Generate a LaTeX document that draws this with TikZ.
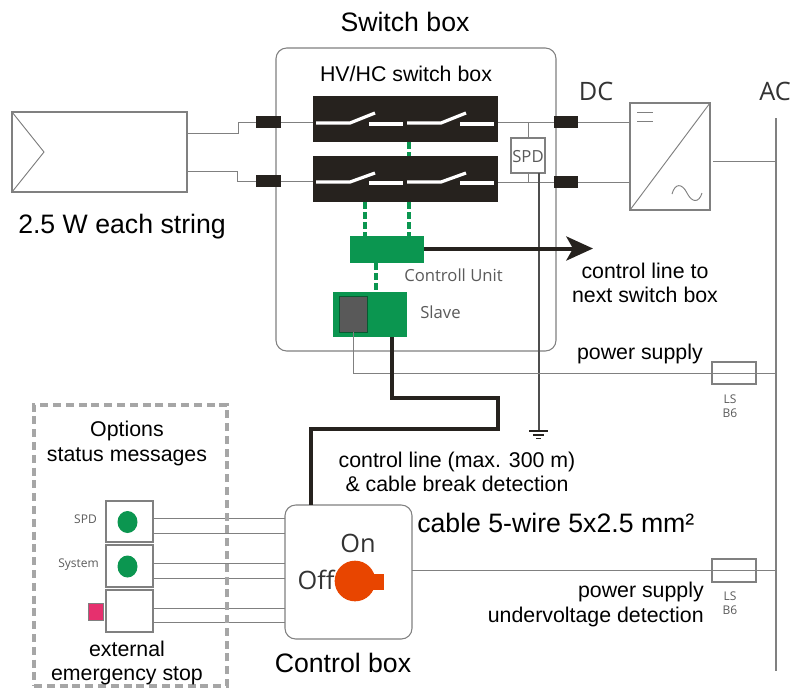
\documentclass[tikz,border=0pt]{standalone}
\usepackage{fontspec}
\setmainfont{Liberation Sans}
\newfontfamily\thinfont{Open Sans}
\usetikzlibrary{arrows.meta,shapes.geometric}
\definecolor{wire}{HTML}{808080}
\definecolor{blk}{HTML}{26221E}
\definecolor{grn}{HTML}{0B9650}
\definecolor{greyt}{HTML}{5A5A5A}
\definecolor{knobc}{HTML}{E84500}
\definecolor{pink}{HTML}{E6306E}
\newcommand{\bx}[6]{%
  \pgfmathsetmacro\bw{(#5-#3)*.75}\pgfmathsetmacro\bh{(#6-#4)*.75}%
  \node[#2,inner sep=0pt,outer sep=0pt,minimum width=\bw pt,minimum height=\bh pt] (#1) at ({(#3+#5)/2},{(#4+#6)/2}) {};}
\tikzset{
  wireline/.style={draw=wire,line width=.7pt},
  outline/.style={draw=wire,line width=.8pt,fill=white},
  roundbox/.style={outline,rounded corners=8pt},
  blackblock/.style={fill=blk},
  terminal/.style={fill=blk},
  greenbox/.style={fill=grn},
  greenlink/.style={draw=grn,line width=2.8pt,dash pattern=on 5pt off 2.6pt},
  thick line/.style={draw=blk,line width=3pt},
  contact/.style={draw=white,line width=2.4pt},
  big/.style={font=\fontsize{20}{24}\selectfont,anchor=base,inner sep=0pt,text=black},
  mid/.style={font=\fontsize{16}{19}\selectfont,anchor=base,inner sep=0pt,text=black},
  glabel/.style={font=\thinfont\fontsize{12.5}{15}\selectfont,anchor=base,inner sep=0pt,text=greyt},
  slabel/.style={font=\thinfont\fontsize{9}{11}\selectfont,anchor=base,inner sep=0pt,text=greyt},
  hlabel/.style={font=\thinfont\fontsize{19}{23}\selectfont,anchor=base,inner sep=0pt,text=black!80},
}
\begin{document}
\begin{tikzpicture}[x=.75pt,y=-.75pt]
\useasboundingbox (0,0) rectangle (792,687);
% switch box outline
\bx{sbox}{roundbox}{276}{48}{556}{351}
% PV string
\bx{pv}{outline}{12}{112}{187}{192}
\coordinate (chev) at (44,152);
\draw[wireline] (pv.north west) -- (chev) -- (pv.south west);
% inverter and AC bus
\bx{inv}{outline}{630}{103}{710}{210}
\draw[wireline] (inv.south west) -- (inv.north east);
\coordinate (eqa) at (637,112); \coordinate (eqb) at (653,112);
\coordinate (eqc) at (637,121); \coordinate (eqd) at (653,121);
\draw[wireline] (eqa) -- (eqb) (eqc) -- (eqd);
\coordinate (sa) at (672,194); \coordinate (sb) at (687,193); \coordinate (sc) at (702,193);
\draw[wireline] (sa) .. controls (675,183) and (682,183) .. (sb) .. controls (692,203) and (699,203) .. (sc);
\coordinate (actop) at (776,118); \coordinate (acbot) at (776,671);
\draw[draw=wire,line width=1pt] (actop) -- (acbot);
\coordinate (invout) at (713,161);
\draw[wireline] (invout) -- (invout -| actop);
% terminals
\bx{tl1}{terminal}{256}{116}{281}{128}
\bx{tl2}{terminal}{256}{175}{281}{187}
\bx{tr1}{terminal}{554}{116}{578}{128}
\bx{tr2}{terminal}{554}{176}{578}{188}
% black switch blocks
\bx{sw1}{blackblock}{313}{96}{498}{142}
\bx{sw2}{blackblock}{313}{156}{498}{202}
% wires string to switches
\coordinate (pva) at (187,133); \coordinate (pvb) at (187,171.5);
\draw[wireline] (pva) -- (238,133) -- (238,122) -- (tl1.west);
\draw[wireline] (pvb) -- (237,171.5) -- (237,181) -- (tl2.west);
\draw[wireline] (tl1.east) -- (tl1.east -| sw1.west);
\draw[wireline] (tl2.east) -- (tl2.east -| sw2.west);
\draw[wireline] (sw1.east |- tr1.west) -- (tr1.west);
\draw[wireline] (sw2.east |- tr2.west) -- (tr2.west);
\draw[wireline] (tr1.east) -- (tr1.east -| inv.west);
\draw[wireline] (tr2.east) -- (tr2.east -| inv.west);
\foreach \yy/\tt in {123/113,182/173}{
  \foreach \xx in {0,91}{
    \draw[contact] (316+\xx,\yy) -- (350+\xx,\yy) -- (375+\xx,\tt);
    \draw[contact] (369+\xx,\yy+1) -- (403+\xx,\yy+1);
  }
}
% SPD
\bx{spd}{outline}{511}{138}{545}{173}
\node[glabel] (spdt) at (528,162) {SPD};
\coordinate (spdtop) at (528,123); \coordinate (spdbot) at (528,183);
\draw[wireline] (spdtop) -- (spd.north -| spdtop);
\draw[wireline] (spd.south -| spdbot) -- (spdbot);
\coordinate (gnd) at (539,431);
\draw[draw=wire!60!black,line width=1.4pt] (spd.south -| gnd) -- (gnd);
\draw[draw=blk,line width=.9pt] (529,431) -- (548,431) (533,435) -- (544,435) (536,438.5) -- (541,438.5);
% control unit, slave
\bx{cu}{greenbox}{350}{236}{424}{263}
\bx{slave}{greenbox}{333}{292}{407}{337}
\bx{gb}{fill=black!65,draw=grn!60!black,line width=.5pt}{339}{296}{367}{332}
\draw[greenlink] (sw1.south -| 409,0) -- (sw2.north -| 409,0);
\draw[greenlink] (sw2.south -| 365,0) -- (cu.north -| 365,0);
\draw[greenlink] (sw2.south -| 409,0) -- (cu.north -| 409,0);
\draw[greenlink] (cu.south -| 376,0) -- (slave.north -| 376,0);
\coordinate (next) at (593,248.5);
\draw[thick line,-{Stealth[length=20pt,width=18pt,inset=5pt]}] (cu.east |- next) -- (next);
% power supply line
\coordinate (pw) at (353,373);
\draw[wireline] (gb.south -| pw) -- (pw) -- (pw -| actop);
% fuses
\bx{f1}{draw=wire,line width=.8pt}{712}{362}{756}{384}
\bx{f2}{draw=wire,line width=.8pt}{712}{559}{756}{582}
% control box
\bx{cbox}{roundbox}{285}{505}{412}{639}
\coordinate (ps2) at (412,570);
\draw[wireline] (ps2) -- (ps2 -| actop);
% options
\bx{st1}{outline}{106}{501}{153}{542}
\bx{st2}{outline}{106}{545}{153}{587}
\bx{st3}{outline}{106}{590}{153}{632}
\foreach \n/\ya/\yb in {st1/518/533,st2/563/578,st3/608/622}{
  \draw[wireline] (\n.east |- 0,\ya) -- (cbox.west |- 0,\ya);
  \draw[wireline] (\n.east |- 0,\yb) -- (cbox.west |- 0,\yb);
}
\node[draw=none,fill=grn,ellipse,inner sep=0pt,minimum width=15pt,minimum height=16.5pt] (led1) at (127.5,522) {};
\node[draw=none,fill=grn,inner sep=0pt,minimum width=15pt,minimum height=16.5pt,ellipse] (led2) at (127.5,566.5) {};
\bx{estop}{fill=pink,draw=black!50,line width=.4pt}{88}{603}{103}{620}
\bx{optbox}{draw=black!35,line width=2.8pt,dash pattern=on 6pt off 3.6pt}{34}{405}{227}{686}
% thick control line
\coordinate (c1) at (392,398); \coordinate (c2) at (498,398); \coordinate (c3) at (498,429); \coordinate (c4) at (311,429);
\draw[thick line] (slave.south -| c1) -- (c1) -- (c2) -- (c3) -- (c4) -- (c4 |- cbox.north);
% knob
\bx{kn}{fill=knobc,draw=none}{373}{574}{384}{590}
\node[circle,fill=knobc,inner sep=0pt,minimum size=30.5pt] (knob) at (355,581) {};
% texts
\node[big] (tswitch) at (405,31) {Switch box};
\node[mid] (thv) at (406,81) {HV/HC switch box};
\node[big] (tstr) at (122,233) {2.5 W each string};
\node[hlabel] (tdc) at (596,100) {DC};
\node[hlabel] (tac) at (775,100) {AC};
\node[glabel] (tcu) at (453.5,281) {Controll Unit};
\node[glabel] (tsl) at (440.5,318) {Slave};
\node[mid] (tnx1) at (645,278) {control line to};
\node[mid] (tnx2) at (645,302) {next switch box};
\node[mid,anchor=base east] (tps1) at (703,359) {power supply};
\node[mid] (tcl1) at (457,467) {control line (max. 300 m)};
\node[mid] (tcl2) at (457,491) {\& cable break detection};
\node[big,anchor=base west] (tcab) at (417,532) {cable 5-wire 5x2.5 mm²};
\node[mid,anchor=base east] (tps2) at (704,597) {power supply};
\node[mid,anchor=base east] (tuv) at (704,622) {undervoltage detection};
\node[mid] (top) at (127,436) {Options};
\node[mid] (tsm) at (127,461) {status messages};
\node[mid] (tex) at (127,656) {external};
\node[mid] (tem) at (127,680) {emergency stop};
\node[big] (tcb) at (343,672) {Control box};
\node[hlabel] (ton) at (358,552) {On};
\node[hlabel] (tof) at (316,589) {Off};
\node[slabel] (tsp) at (85.5,523) {SPD};
\node[slabel] (tsy) at (78.5,567) {System};
\node[slabel] (tl1a) at (730,403) {LS};
\node[slabel] (tl1b) at (730,417) {B6};
\node[slabel] (tl2a) at (730,600) {LS};
\node[slabel] (tl2b) at (730,614) {B6};
\end{tikzpicture}
\end{document}
